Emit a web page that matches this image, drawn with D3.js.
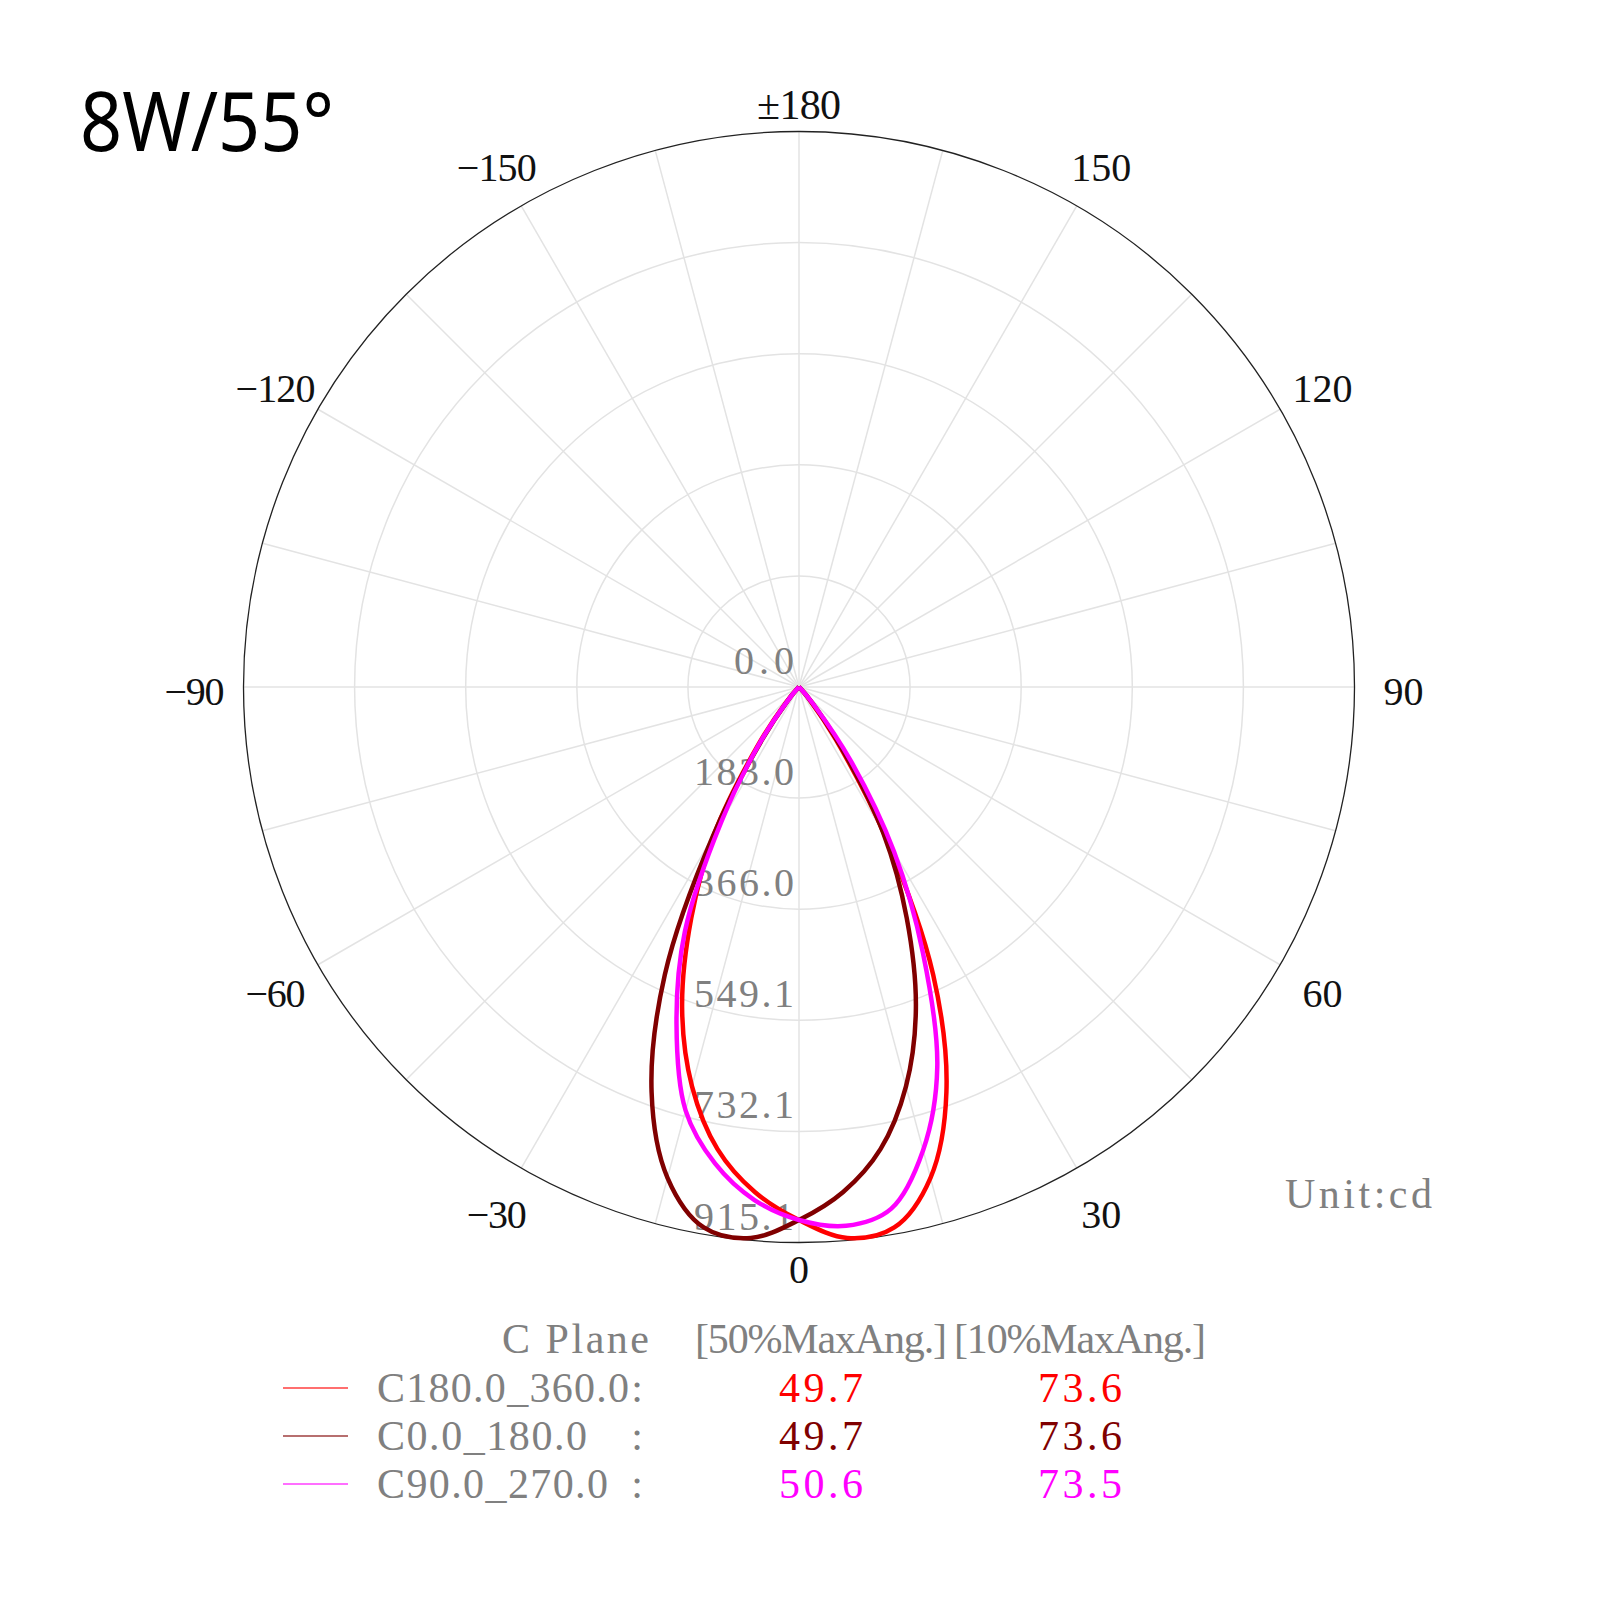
<html>
<meta charset="utf-8" />
<head>
<title>8W/55° polar intensity</title>
<script src="https://cdn.jsdelivr.net/npm/d3@7" type="text/javascript"></script>
<style>
	body { margin: 0; background: #fff; }
	svg { display: block; }
</style>

<script>
// gamma angles (deg) and intensities (cd)
let gammas = [0, 5, 10, 15, 20, 25, 30, 35, 40, 45, 50, 55, 60, 65, 70, 75, 80, 85, 90];
let c0   = [878, 835, 773, 681, 563, 420, 278, 121, 33, 3, 0, 0, 0, 0, 0, 0, 0, 0, 0];
let c180 = [878, 911, 904, 837, 710, 523, 284, 106, 25, 3, 0, 0, 0, 0, 0, 0, 0, 0, 0];
let c90  = [878, 891, 873, 790, 666, 483, 313, 150, 35, 3, 0, 0, 0, 0, 0, 0, 0, 0, 0];
let c270 = [878, 848, 797, 722, 590, 445, 255, 112, 25, 3, 0, 0, 0, 0, 0, 0, 0, 0, 0];

// legend / series
let planeNames = ['C180.0_360.0', 'C0.0_180.0', 'C90.0_270.0'];
let planeColors = ['#ff0000', '#800000', '#ff00ff'];
let leftSide  = [c0, c180, c270];   // drawn at negative angles
let rightSide = [c180, c0, c90];    // drawn at positive angles
let ang50 = ['49.7', '49.7', '50.6'];
let ang10 = ['73.6', '73.6', '73.5'];

// ticks
let radialTicks = [0, 183.0, 366.0, 549.1, 732.1, 915.1];
let angleTicks = [0, 30, 60, 90, 120, 150, 180, -150, -120, -90, -60, -30];
let angleLabels = ['0', '30', '60', '90', '120', '150', '±180', '−150', '−120', '−90', '−60', '−30'];

window.onload = function() {
	let cx = 799, cy = 687, R = 555.5;
	let svg = d3.select('svg');
	let rScale = d3.scaleLinear().domain([0, 915.1]).range([0, R]);
	// 0 deg at the bottom, +90 to the right
	let toRad = function(g) { return Math.PI - g * Math.PI / 180; };

	let g = svg.append('g').attr('transform', 'translate(' + cx + ',' + cy + ')');

	// spokes every 15 deg
	g.selectAll('line.spoke')
		.data(d3.range(0, 360, 15))
		.enter()
		.append('line')
		.attr('x1', 0).attr('y1', 0)
		.attr('x2', function(d) { return R * Math.sin(toRad(d)); })
		.attr('y2', function(d) { return -R * Math.cos(toRad(d)); })
		.style('stroke', '#e3e3e3')
		.style('stroke-width', '1.5px');

	// rings
	g.selectAll('circle.ring')
		.data(radialTicks.slice(1, -1))
		.enter()
		.append('circle')
		.attr('r', function(d) { return rScale(d); })
		.style('fill', 'none')
		.style('stroke', '#e3e3e3')
		.style('stroke-width', '1.5px');

	g.append('circle')
		.attr('r', R)
		.style('fill', 'none')
		.style('stroke', '#222')
		.style('stroke-width', '1.3px');

	// half-width spacing like the original CJK serif font
	let serif = "'Liberation Serif', 'DejaVu Serif', serif";
	let fitText = function(sel, size) {
		sel.style('font-family', serif)
			.style('font-size', size + 'px')
			.attr('textLength', function(d) {
				let t = d3.select(this).text();
				let w = 0;
				for (let ch of t) w += (ch === '±') ? 0.6 : 0.5;
				return w * size;
			})
			.attr('lengthAdjust', 'spacing');
	};

	// radial labels
	g.selectAll('text.rlab')
		.data(radialTicks)
		.enter()
		.append('text')
		.attr('x', -5)
		.attr('y', function(d) { return rScale(d) - 13; })
		.attr('text-anchor', 'end')
		.style('fill', '#808080')
		.text(function(d) { return d.toFixed(1); })
		.call(fitText, 40);

	// angle labels
	let labOff = function(d) { return (d === 0 || d === 180) ? 27 : 49; };
	g.selectAll('text.alab')
		.data(angleTicks)
		.enter()
		.append('text')
		.attr('x', function(d) { return (R + labOff(d)) * Math.sin(toRad(d)); })
		.attr('y', function(d) {
			let y = -(R + labOff(d)) * Math.cos(toRad(d));
			return (d === 0 || d === 180) ? y : y + 4;
		})
		.attr('text-anchor', 'middle')
		.attr('dominant-baseline', 'central')
		.style('fill', '#111')
		.text(function(d, i) { return angleLabels[i]; })
		.call(fitText, 40)
		.filter(function(d) { return d === 180; })
		.style('font-size', '42px');

	// curves
	let line = d3.lineRadial()
		.angle(function(d) { return toRad(d.g); })
		.radius(function(d) { return rScale(d.v); })
		.curve(d3.curveCatmullRom);

	planeNames.forEach(function(name, k) {
		let pts = [];
		for (let i = gammas.length - 1; i > 0; i--) pts.push({ g: -gammas[i], v: leftSide[k][i] });
		for (let i = 0; i < gammas.length; i++) pts.push({ g: gammas[i], v: rightSide[k][i] });
		g.append('path')
			.datum(pts)
			.attr('d', line)
			.style('fill', 'none')
			.style('stroke', planeColors[k])
			.style('stroke-width', '4.5px')
			.style('stroke-linejoin', 'round');
	});

	// title
	svg.append('text')
		.attr('x', 80).attr('y', 151)
		.style('font-family', "'Noto Sans', 'Open Sans', sans-serif")
		.style('font-size', '83px')
		.attr('textLength', 254)
		.attr('lengthAdjust', 'spacingAndGlyphs')
		.style('fill', '#000')
		.text('8W/55°');

	svg.append('text')
		.attr('x', 1285).attr('y', 1194)
		.attr('dominant-baseline', 'central')
		.style('fill', '#808080')
		.text('Unit:cd')
		.call(fitText, 42);

	// legend
	let lg = svg.append('g');
	let head = [['C Plane', 649, 'end'], ['[50%MaxAng.]', 821, 'middle'], ['[10%MaxAng.]', 1080, 'middle']];
	head.forEach(function(h) {
		lg.append('text')
			.attr('x', h[1]).attr('y', 1339)
			.attr('text-anchor', h[2])
			.attr('dominant-baseline', 'central')
			.style('fill', '#808080')
			.text(h[0])
			.call(fitText, 42);
	});

	planeNames.forEach(function(name, k) {
		let y = 1388 + k * 48;
		lg.append('line')
			.attr('x1', 283).attr('x2', 348)
			.attr('y1', y).attr('y2', y)
			.style('stroke', planeColors[k])
			.style('stroke-width', '1.6px')
			.style('opacity', 0.75);
		lg.append('text')
			.attr('x', 377).attr('y', y)
			.attr('dominant-baseline', 'central')
			.style('fill', '#808080')
			.text(name)
			.call(fitText, 42);
		lg.append('text')
			.attr('x', 643).attr('y', y)
			.attr('text-anchor', 'end')
			.attr('dominant-baseline', 'central')
			.style('fill', '#808080')
			.style('font-family', serif)
			.style('font-size', '42px')
			.text(':');
		lg.append('text')
			.attr('x', 821).attr('y', y)
			.attr('text-anchor', 'middle')
			.attr('dominant-baseline', 'central')
			.style('fill', planeColors[k])
			.text(ang50[k])
			.call(fitText, 42);
		lg.append('text')
			.attr('x', 1080).attr('y', y)
			.attr('text-anchor', 'middle')
			.attr('dominant-baseline', 'central')
			.style('fill', planeColors[k])
			.text(ang10[k])
			.call(fitText, 42);
	});
}
</script>
</head>
<body>
	<svg width="1600" height="1600" />
</body>
</html>
